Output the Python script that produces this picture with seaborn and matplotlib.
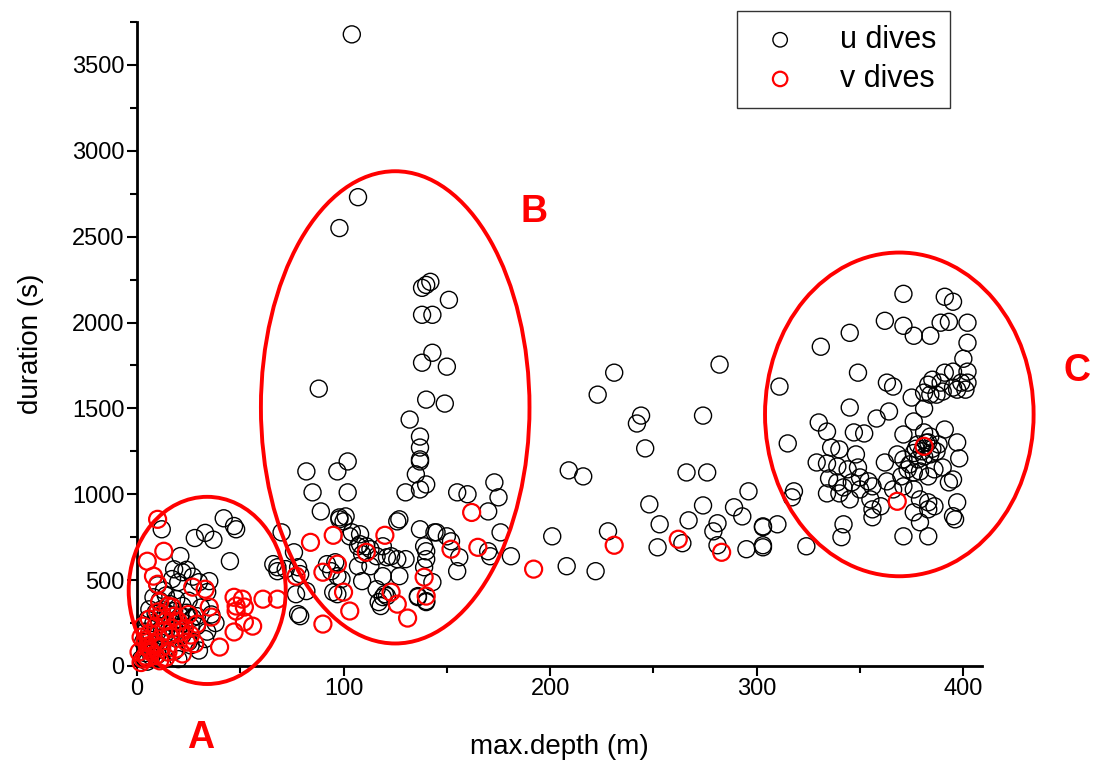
import numpy as np
import pandas as pd
import matplotlib
matplotlib.use("Agg")
import matplotlib.pyplot as plt
from matplotlib.patches import Ellipse
import seaborn as sns

# u dives (black): max depth (m) and duration (s)
u_depth = [12, 28, 33, 37, 42, 47, 48, 45, 21, 18,
           22, 20, 17, 30, 35, 34, 29, 29, 33, 10,
           13, 8, 11, 14, 16, 19, 22, 25, 6, 9,
           12, 15, 18, 21, 24, 27, 5, 8, 11, 14,
           17, 20, 23, 26, 4, 7, 10, 13, 16, 19,
           22, 25, 3, 6, 9, 12, 15, 18, 4, 7,
           10, 2, 5, 31, 36, 38, 34, 26, 30, 20,
           24, 27,
           68, 66, 72, 70, 76, 78, 78, 68, 79, 77, 82, 79,
           85, 102, 89, 98, 100, 104, 88, 107, 98, 140,
           142, 138, 151, 138, 143, 143, 138, 150, 140, 149,
           132, 137, 137, 137, 137, 135, 130, 137, 140, 82,
           97, 102, 155, 160, 173, 175, 170, 176, 181, 104,
           127, 137, 144, 150, 152, 108, 139, 140, 156, 170,
           171, 107, 109, 113, 116, 119, 123, 126, 130, 107,
           113, 119, 127, 140, 139, 155, 109, 116, 119, 118,
           136, 140, 143, 92, 94, 97, 99, 95, 97, 96,
           103, 108, 111, 126, 136, 140, 145, 121, 98, 101,
           117, 121, 120,
           231, 223, 244, 242, 246, 282, 274, 311, 209, 216,
           266, 276, 315, 296, 318, 317, 248, 274, 289, 293,
           253, 267, 281, 279, 303, 310, 303, 228, 201, 252,
           264, 281, 295, 303, 303, 324, 208, 222,
           371, 391, 395, 362, 371, 376, 384, 389, 393, 402,
           402, 400, 345, 331, 349, 363, 366, 375, 391, 395,
           402, 385, 383, 389, 399, 402, 401, 381, 384, 387,
           390, 395, 397, 345, 358, 364, 381, 376, 330, 334,
           347, 352, 371, 381, 384, 383, 391, 397, 398, 336,
           340, 348, 329, 334, 339, 344, 349, 362, 368, 371,
           374, 378, 381, 384, 387, 373, 376, 379, 383, 386,
           390, 393, 395, 397, 395, 396, 335, 339, 342, 346,
           350, 354, 356, 334, 340, 345, 350, 355, 356, 356,
           360, 363, 370, 366, 371, 376, 379, 383, 386, 376,
           379, 383, 342, 341, 371, 383, 378, 382, 380, 385,
           377, 388, 376]
u_duration = [796, 745, 775, 735, 860, 815, 796, 610, 640, 563,
              546, 488, 506, 488, 494, 430, 290, 232, 157, 470,
              440, 400, 380, 410, 360, 390, 350, 380, 330, 310,
              330, 300, 320, 290, 310, 280, 270, 250, 260, 230,
              250, 220, 250, 230, 200, 180, 200, 170, 190, 160,
              180, 140, 140, 110, 125, 95, 105, 85, 75, 55,
              65, 40, 25, 340, 300, 250, 200, 120, 90, 40,
              560, 520,
              575, 593, 564, 778, 662, 575, 302, 552, 535, 418, 436, 290,
              1011, 1011, 900, 865, 842, 778, 1615, 2730, 2550, 2219,
              2237, 2202, 2132, 2045, 2045, 1824, 1766, 1743, 1551, 1528,
              1435, 1336, 1272, 1203, 1191, 1116, 1011, 1028, 1057, 1133,
              1133, 1191, 1011, 1000, 1069, 982, 900, 778, 639, 3678,
              854, 796, 778, 755, 726, 767, 697, 668, 633, 668,
              639, 697, 651, 680, 639, 697, 639, 622, 622, 581,
              581, 523, 523, 622, 575, 552, 494, 447, 401, 349,
              401, 372, 488, 593, 552, 523, 506, 430, 418, 604,
              755, 709, 697, 842, 407, 378, 778, 633, 854, 871,
              372, 407, 418,
              1708, 1580, 1458, 1412, 1267, 1755, 1458, 1627, 1139, 1104,
              1127, 1127, 1296, 1017, 1017, 982, 941, 935, 924, 871,
              825, 848, 831, 784, 813, 825, 808, 784, 755, 691,
              715, 703, 680, 703, 691, 697, 581, 552,
              2167, 2150, 2121, 2010, 1981, 1923, 1923, 1999, 2004, 1999,
              1882, 1789, 1940, 1859, 1708, 1650, 1627, 1563, 1708, 1714,
              1714, 1667, 1638, 1650, 1650, 1650, 1609, 1592, 1580, 1580,
              1598, 1621, 1609, 1505, 1441, 1482, 1499, 1424, 1418, 1365,
              1360, 1354, 1348, 1360, 1336, 1302, 1377, 1302, 1209, 1272,
              1261, 1232, 1185, 1179, 1162, 1145, 1156, 1185, 1232, 1203,
              1174, 1203, 1220, 1232, 1249, 1145, 1127, 1133, 1104, 1145,
              1156, 1069, 1086, 953, 872, 854, 1092, 1069, 1040, 1069,
              1098, 1075, 1046, 1005, 1005, 970, 1028, 970, 912, 866,
              930, 1075, 1104, 1028, 1046, 1028, 970, 953, 930, 895,
              837, 912, 825, 750, 755, 755, 1290, 1300, 1250, 1265,
              1265, 1290, 1240]

# v dives (red)
v_depth = [10, 13, 5, 8, 10, 27, 33, 47, 51, 48,
           52, 61, 68, 35, 36, 48, 52, 56, 47, 40,
           22, 29, 11, 15, 17, 10, 6, 3, 2, 5,
           1, 4, 6, 11, 16, 21, 24, 19, 15, 2,
           3, 5, 7, 8, 9, 12, 13, 14, 17, 18,
           20, 23, 25, 12, 9, 6, 4, 26, 28, 14,
           11, 84, 95, 120, 111, 90, 97, 100, 103, 90,
           123, 126, 131, 139, 140, 152, 165, 162, 77, 192,
           231, 262, 283, 381, 368]
v_duration = [854, 668, 610, 523, 476, 459, 447, 400, 389, 349,
              343, 389, 389, 343, 285, 320, 256, 232, 198, 110,
              70, 244, 372, 349, 343, 314, 273, 232, 168, 116,
              81, 58, 99, 157, 174, 198, 139, 99, 81, 20,
              40, 45, 80, 130, 60, 110, 200, 260, 220, 290,
              260, 220, 300, 300, 230, 190, 150, 180, 130, 50,
              30, 720, 761, 761, 662, 546, 593, 430, 320, 244,
              430, 360, 279, 517, 407, 680, 691, 894, 523, 564,
              703, 738, 662, 1279, 959]

# cluster outlines: label, centre (depth, duration), size, label position
cluster_labels = ["A", "B", "C"]
cluster_centres = [(34, 440), (125, 1506), (369, 1465)]
cluster_sizes = [(76, 1090), (130, 2750), (130, 1885)]
label_positions = [(31, -420), (192, 2645), (455, 1715)]

u_df = pd.DataFrame({"depth": u_depth, "duration": u_duration})
v_df = pd.DataFrame({"depth": v_depth, "duration": v_duration})

sns.set_style("ticks")
plt.rcParams["font.family"] = ["Liberation Sans", "DejaVu Sans"]
plt.rcParams["text.color"] = "black"
plt.rcParams["axes.labelcolor"] = "black"
plt.rcParams["xtick.color"] = "black"
plt.rcParams["ytick.color"] = "black"

fig = plt.figure(figsize=(10.93, 7.64), dpi=100)
ax = fig.add_axes([0.1253, 0.1283, 0.7731, 0.8429])

sns.scatterplot(data=u_df, x="depth", y="duration", ax=ax, s=150,
                facecolor="none", edgecolor="black", color="black",
                linewidth=1.0, label="u dives", clip_on=False, zorder=3)
sns.scatterplot(data=v_df, x="depth", y="duration", ax=ax, s=150,
                facecolor="none", edgecolor="red", color="red",
                linewidth=1.6, label="v dives", clip_on=False, zorder=4)

for lab, (cx, cy), (w, h), (tx, ty) in zip(cluster_labels, cluster_centres,
                                           cluster_sizes, label_positions):
    ax.add_patch(Ellipse((cx, cy), w, h, fill=False, edgecolor="red",
                         linewidth=2.8, clip_on=False, zorder=5))
    ax.text(tx, ty, lab, color="red", fontsize=27, fontweight="bold",
            ha="center", va="center", clip_on=False)

ax.set_xlim(0, 409)
ax.set_ylim(0, 3750)
ax.set_xticks([0, 100, 200, 300, 400])
ax.set_xticks([50, 150, 250, 350], minor=True)
ax.set_yticks(np.arange(0, 3501, 500))
ax.set_yticks(np.arange(250, 3751, 500), minor=True)
ax.tick_params(axis="both", which="major", direction="out", length=7,
               width=1.5, labelsize=17, pad=2, colors="black")
ax.tick_params(axis="both", which="minor", direction="out", length=5,
               width=1.5, colors="black")
for side in ["left", "bottom"]:
    ax.spines[side].set_linewidth(2)
    ax.spines[side].set_color("black")
sns.despine(ax=ax)

ax.set_xlabel("max.depth (m)", fontsize=20, labelpad=24, color="black")
ax.set_ylabel("duration (s)", fontsize=20, labelpad=20, color="black")

leg = ax.legend(loc="upper right", bbox_to_anchor=(0.962, 1.017),
                borderaxespad=0, fontsize=22, frameon=True, fancybox=False,
                edgecolor="black", borderpad=0.45, handletextpad=1.0,
                labelspacing=0.3, handlelength=1.9, markerscale=0.85)
leg.get_frame().set_linewidth(1.0)
for t in leg.get_texts():
    t.set_color("black")

fig.savefig("out.png", dpi=100)
